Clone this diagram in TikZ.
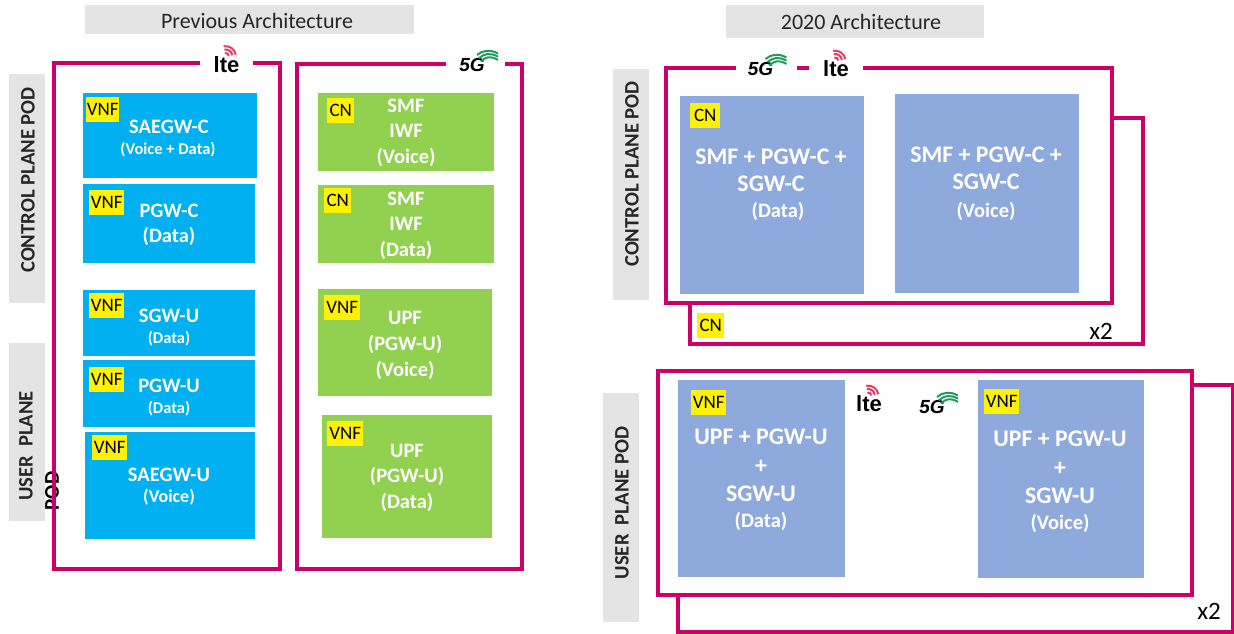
\documentclass[tikz,border=0pt]{standalone}
\usepackage{fontspec}
\setmainfont{Carlito}
\newfontfamily\logofont{Liberation Sans}
\definecolor{frameC}{HTML}{CC0066}
\definecolor{bluebox}{HTML}{00B0F0}
\definecolor{greenbox}{HTML}{92D050}
\definecolor{periw}{HTML}{8EA9DB}
\definecolor{greyband}{HTML}{E4E4E4}
\definecolor{ltered}{HTML}{F0385F}
\definecolor{fiveg}{HTML}{1E9E5A}
\newcommand{\fs}[1]{\fontsize{#1}{\dimexpr #1pt*12/10\relax}\selectfont}
\tikzset{
  x=1pt,y=-1pt,
  frameline/.style={draw=frameC,line width=4pt,line cap=butt,line join=miter},
  box/.style={anchor=north west,inner sep=0pt,outer sep=0pt,draw=none},
  boxtxt/.style={text=white,align=center,font=\bfseries\fs{20.5},inner sep=0pt},
  smalltxt/.style={text=white,align=center,font=\bfseries\fs{16.5},inner sep=0pt},
  midtxt/.style={text=white,align=center,font=\bfseries\fs{20.5},inner sep=0pt},
  bigtxt/.style={text=white,align=center,font=\bfseries\fs{23.8},inner sep=0pt},
  tag/.style={fill=yellow,text=black,font=\fs{19},inner sep=0pt,minimum height=25pt,anchor=north west},
  band/.style={fill=greyband,anchor=north west,inner sep=0pt},
  vlabel/.style={rotate=90,font=\bfseries\fs{20.6},text=black!85,inner sep=0pt},
  ltetext/.style={font=\logofont\bfseries\fs{22},text=black,inner sep=0pt},
  fivegtext/.style={font=\logofont\bfseries\itshape\fs{19},text=black,inner sep=0pt},
}
\newcommand{\ltelogo}[3]{% name, x, y (centre of lettering)
  \node[ltetext] (#1) at (#2,#3) {lte};
  \foreach \r in {3.5,7,10.5}{
    \draw[ltered,line width=2pt]
      (#2-1-.17*\r,#3-8-.98*\r) .. controls (#2-1-.17*\r+.54*\r,#3-8-.98*\r-.09*\r) and (#2-1+.98*\r-.09*\r,#3-8-.17*\r-.54*\r) .. (#2-1+.98*\r,#3-8-.17*\r);
  }
}
\newcommand{\fiveglogo}[3]{%
  \node[fivegtext] (#1) at (#2,#3) {5G};
  \foreach \d in {0,3.2,6.4}{
    \draw[fiveg,line width=2pt]
      (#2+5+\d*.6,#3-10+\d) .. controls (#2+10+\d*.6,#3-14.5+\d) and (#2+18,#3-16+\d) .. (#2+26,#3-11.5+\d);
  }
}
\begin{document}
\begin{tikzpicture}
\useasboundingbox (0,0) rectangle (1234,634);
\fill[white] (0,0) rectangle (1234,634);

% title bands
\node[band,minimum width=329pt,minimum height=29pt] (band1) at (85,5) {};
\node[font=\fs{22},text=black!85,inner sep=0pt] (title1) at (257,20.5) {Previous Architecture};
\node[band,minimum width=258pt,minimum height=33pt] (band2) at (726,5) {};
\node[font=\fs{22},text=black!85,inner sep=0pt] (title2) at (861,22) {2020 Architecture};

% side bands
\node[band,minimum width=36pt,minimum height=229pt] (bandA) at (9,74) {};
\node[vlabel] (lblA) at (28,180) {CONTROL PLANE POD};
\node[band,minimum width=36pt,minimum height=178pt] (bandB) at (9,343) {};
\node[vlabel] (lblB) at (26,446) {USER\ \ PLANE};
\node[rotate=90,font=\bfseries\fs{21},inner sep=0pt] (lblB2) at (52,491) {POD};
\node[band,minimum width=36pt,minimum height=231pt] (bandC) at (613,69) {};
\node[vlabel] (lblC) at (632,174) {CONTROL PLANE POD};
\node[band,minimum width=36pt,minimum height=229pt] (bandD) at (603,393) {};
\node[vlabel] (lblD) at (622,503) {USER\ \ PLANE POD};

% frames: previous architecture
\draw[frameline] (200,63) -- (54,63) -- (54,569) -- (280,569) -- (280,63) -- (253,63);
\draw[frameline] (446,64) -- (297,64) -- (297,569) -- (522,569) -- (522,64) -- (505,64);

% frames: 2020 architecture
\draw[frameline] (1112,118) -- (1143,118) -- (1143,344) -- (690,344) -- (690,303);
\draw[frameline] (736,68) -- (666,68) -- (666,303) -- (1112,303) -- (1112,68) -- (863,68);
\draw[frameline] (797,68) -- (809,68);
\draw[frameline] (1192,385) -- (1233,385) -- (1233,632) -- (678,632) -- (678,595);
\draw[frameline] (658,371) -- (1192,371) -- (1192,595) -- (658,595) -- cycle;

% logos
\ltelogo{lteA}{226.5}{64.5}
\fiveglogo{fgA}{472}{65}
\fiveglogo{fgB}{760.5}{69}
\ltelogo{lteB}{836}{69}
\ltelogo{lteC}{869}{404}
\fiveglogo{fgC}{932}{407}

% blue boxes
\node[box,fill=bluebox,minimum width=174pt,minimum height=85pt] (saegwc) at (83,93) {};
\node[boxtxt] (saegwcT) at (169,127) {SAEGW-C};
\node[smalltxt] (saegwcS) at (168,150) {(Voice + Data)};
\node[tag,minimum width=33pt] (v1) at (86,97) {VNF};

\node[box,fill=bluebox,minimum width=172pt,minimum height=79pt] (pgwc) at (83,184) {};
\node[boxtxt] (pgwcT) at (169,211) {PGW-C};
\node[boxtxt] (pgwcS) at (169,236) {(Data)};
\node[tag,minimum width=35pt] (v2) at (89,190) {VNF};

\node[box,fill=bluebox,minimum width=172pt,minimum height=66pt] (sgwu) at (83,290) {};
\node[boxtxt] (sgwuT) at (169,316) {SGW-U};
\node[smalltxt] (sgwuS) at (169,339) {(Data)};
\node[tag,minimum width=35pt] (v3) at (89,293) {VNF};

\node[box,fill=bluebox,minimum width=172pt,minimum height=67pt] (pgwu) at (83,360) {};
\node[boxtxt] (pgwuT) at (169,386) {PGW-U};
\node[smalltxt] (pgwuS) at (169,409) {(Data)};
\node[tag,minimum width=35pt] (v4) at (89,367) {VNF};

\node[box,fill=bluebox,minimum width=170pt,minimum height=107pt] (saegwu) at (85,432) {};
\node[boxtxt] (saegwuT) at (169,475) {SAEGW-U};
\node[boxtxt,font=\bfseries\fs{18}] (saegwuS) at (169,497) {(Voice)};
\node[tag,minimum width=35pt] (v5) at (92,435) {VNF};

% green boxes
\node[box,fill=greenbox,minimum width=176pt,minimum height=78pt] (smf1) at (318,93) {};
\node[midtxt] (smf1T) at (406,132.5) {SMF\\[1pt]IWF\\[1pt](Voice)};
\node[tag,minimum width=27pt] (c1) at (327,98) {CN};

\node[box,fill=greenbox,minimum width=176pt,minimum height=78pt] (smf2) at (318,185) {};
\node[midtxt] (smf2T) at (406,225.5) {SMF\\[1pt]IWF\\[1pt](Data)};
\node[tag,minimum width=27pt] (c2) at (324,188) {CN};

\node[box,fill=greenbox,minimum width=174pt,minimum height=107pt] (upf1) at (318,289) {};
\node[midtxt] (upf1T) at (405,345.5) {UPF\\[1pt](PGW-U)\\[1pt](Voice)};
\node[tag,minimum width=36pt] (v6) at (324,295) {VNF};

\node[box,fill=greenbox,minimum width=170pt,minimum height=123pt] (upf2) at (322,415) {};
\node[midtxt] (upf2T) at (407,477.5) {UPF\\[1pt](PGW-U)\\[1pt](Data)};
\node[tag,minimum width=36pt] (v7) at (327,421) {VNF};

% periwinkle boxes top
\node[box,fill=periw,minimum width=184pt,minimum height=198pt] (p1) at (680,96) {};
\node[bigtxt] (p1T) at (771,170.5) {SMF + PGW-C +\\[-1.5pt]SGW-C};
\node[midtxt] (p1S) at (778,211) {(Data)};
\node[tag,minimum width=30pt] (c3) at (690,103) {CN};

\node[box,fill=periw,minimum width=184pt,minimum height=199pt] (p2) at (895,94) {};
\node[bigtxt] (p2T) at (986,168.5) {SMF + PGW-C +\\[-1.5pt]SGW-C};
\node[midtxt] (p2S) at (986,211) {(Voice)};

\node[tag,minimum width=27pt] (c4) at (697,313) {CN};
\node[font=\fs{25},text=black,inner sep=0pt] (x2a) at (1101,331) {x2};

% periwinkle boxes bottom
\node[box,fill=periw,minimum width=167pt,minimum height=197pt] (p3) at (678,380) {};
\node[bigtxt] (p3T) at (761,465.5) {UPF + PGW-U\\+\\SGW-U};
\node[midtxt] (p3S) at (761,521) {(Data)};
\node[tag,minimum width=35pt] (v8) at (691,390) {VNF};

\node[box,fill=periw,minimum width=166pt,minimum height=198pt] (p4) at (978,380) {};
\node[bigtxt] (p4T) at (1060,467.5) {UPF + PGW-U\\+\\SGW-U};
\node[midtxt] (p4S) at (1060,523) {(Voice)};
\node[tag,minimum width=35pt] (v9) at (984,389) {VNF};

\node[font=\fs{25},text=black,inner sep=0pt] (x2b) at (1209,611) {x2};
\end{tikzpicture}
\end{document}
